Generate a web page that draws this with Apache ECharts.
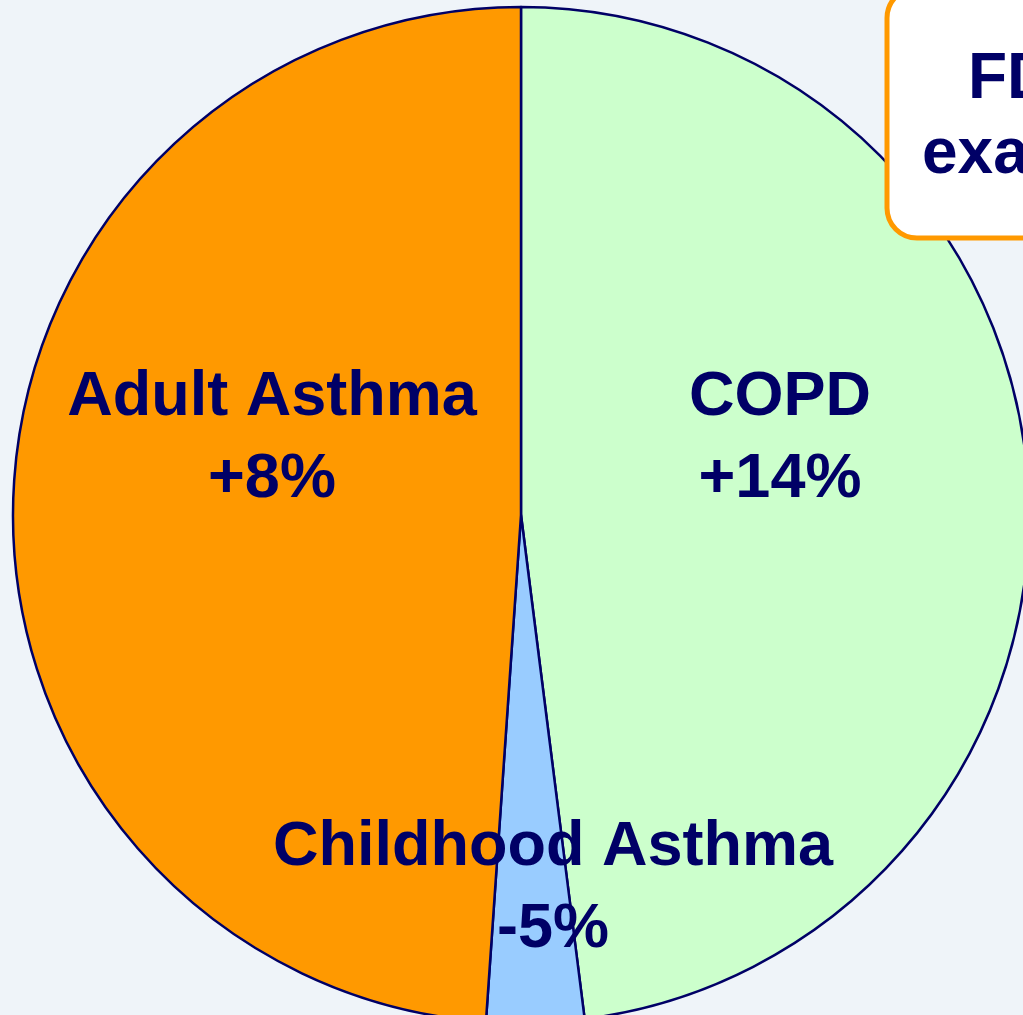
<!DOCTYPE html>
<html>
<head>
  <meta charset="utf-8" />
  <title>ECharts</title>
  <script src="https://cdn.jsdelivr.net/npm/echarts@6/dist/echarts.min.js"></script>
  <style>
    html, body { margin: 0; padding: 0; background: #eff4f9; }
  </style>
</head>
<body>
<div id="main" style="width:1023px;height:1015px;"></div>
<script type="text/javascript">
  // data (share of the pie, in %)
  var categories = ['COPD', 'Childhood Asthma', 'Adult Asthma'];
  var shares = [48.0, 3.1, 48.9];
  var changes = ['+14%', '-5%', '+8%'];
  var colors = ['#ccffcc', '#99ccff', '#ff9900'];
  var boxLines = ['FDA', 'example'];

  // where each label block is centred
  var labelPos = [[780, 439], [553, 889], [272, 439]];

  var myChart = echarts.init(document.getElementById('main'));

  var option = {
    backgroundColor: '#eff4f9',
    animation: false,
    graphic: [
      {
        type: 'rect',
        z: 100,
        shape: { x: 887, y: -12, width: 240, height: 250, r: 30 },
        style: { fill: '#ffffff', stroke: '#ff9900', lineWidth: 5 }
      },
      {
        type: 'text',
        z: 101,
        style: {
          x: 968, y: 112, text: boxLines[0], fill: '#000066',
          font: 'bold 64px "Liberation Sans", Arial, sans-serif',
          textVerticalAlign: 'bottom'
        }
      },
      {
        type: 'text',
        z: 101,
        style: {
          x: 922, y: 187, text: boxLines[1], fill: '#000066',
          font: 'bold 64px "Liberation Sans", Arial, sans-serif',
          textVerticalAlign: 'bottom'
        }
      }
    ],
    series: [
      {
        type: 'pie',
        center: [521, 515],
        radius: 508,
        startAngle: 90,
        clockwise: true,
        avoidLabelOverlap: false,
        data: categories.map(function (name, i) {
          return { name: name, value: shares[i], itemStyle: { color: colors[i] } };
        }),
        itemStyle: {
          borderColor: '#000066',
          borderWidth: 2.5
        },
        label: {
          show: true,
          position: 'inside',
          color: '#000066',
          fontFamily: '"Liberation Sans", Arial, sans-serif',
          fontWeight: 'bold',
          fontSize: 63,
          lineHeight: 82,
          formatter: function (p) {
            return p.name + '\n' + changes[p.dataIndex];
          }
        },
        labelLine: { show: false },
        labelLayout: function (params) {
          var pos = labelPos[params.dataIndex];
          return { x: pos[0], y: pos[1], align: 'center', verticalAlign: 'middle' };
        }
      }
    ]
  };

  myChart.setOption(option);
</script>
</body>
</html>
